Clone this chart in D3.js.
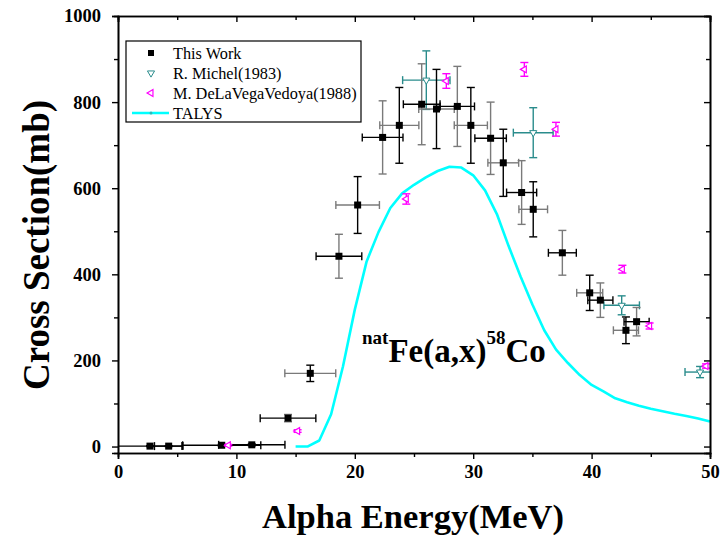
<!DOCTYPE html>
<html>
<head>
<meta charset="utf-8">
<script src="https://cdn.jsdelivr.net/npm/d3@7/dist/d3.min.js"></script>
<style>
  html, body { margin: 0; padding: 0; background: #fff; }
  svg { display: block; }
  text { font-family: "Liberation Serif", "Times New Roman", serif; }
</style>
</head>
<body>
<svg id="chart" width="724" height="540"></svg>
<script>
// natFe(a,x)58Co excitation function

// This Work
const workEnergy = [2.7, 4.28, 8.76, 11.3, 14.36, 16.24, 18.66, 20.24, 22.35, 23.76, 25.65, 26.9,
                    28.66, 29.8, 31.47, 32.54, 34.09, 35.07, 37.53, 39.84, 40.74, 42.9, 43.8];
const workXS = [1, 1, 3, 4, 66, 170, 442, 561, 718, 746, 795, 784,
                790, 746, 716, 659, 590, 551, 450, 357, 340, 270, 290];
const workEnergyErr = [2.7, 1.2, 3.3, 2.8, 2.35, 2.15, 1.93, 1.84, 1.72, 1.65, 1.55, 1.5,
                       1.45, 1.4, 1.33, 1.3, 1.27, 1.21, 1.18, 1.1, 1.06, 1.06, 1.06];
const workXSErr = [1, 1, 2, 2, 8.5, 19, 51, 66, 85, 88, 94, 92,
                   93, 88, 84, 78, 74, 64, 52, 41, 40, 31, 33];

// R. Michel (1983)
const michelEnergy = [26.04, 35.07, 42.54, 49.16];
const michelXS = [851, 729, 328, 173];
const michelEnergyErr = [2.0, 1.68, 1.5, 1.27];
const michelXSErr = [68, 58, 22, 13];

// M. DeLaVegaVedoya (1988)
const vedoyaEnergy = [9.32, 15.17, 24.35, 27.73, 34.32, 36.99, 42.6, 44.9, 49.66];
const vedoyaXS = [3, 36, 575, 849, 876, 737, 412, 280, 187];
const vedoyaXSErr = [2, 3, 12, 17, 16, 16, 9, 7, 5];

// TALYS calculation
const talysEnergy = [15, 16, 17, 18, 19, 20, 21, 22, 23, 24, 25, 26, 27, 28, 29, 30, 31, 32, 33,
                     34, 35, 36, 37, 38, 39, 40, 41, 42, 43, 44, 45, 46, 47, 48, 49, 50];
const talysXS = [0, 0, 14, 75, 186, 318, 430, 498, 554, 588, 608, 625, 640, 650, 648, 630, 595, 540, 465,
                 395, 330, 270, 225, 194, 166, 143, 128, 112, 103, 95, 88, 82, 76, 71, 65, 58];

// Axis ticks
const xMajorTicks = [0, 10, 20, 30, 40, 50];
const xMinorTicks = [5, 15, 25, 35, 45];
const yMajorTicks = [0, 200, 400, 600, 800, 1000];
const yMinorTicks = [100, 300, 500, 700, 900];

const legendLabels = ["This Work", "R. Michel(1983)", "M. DeLaVegaVedoya(1988)", "TALYS"];

const svg = d3.select("#chart");
const L = 118, R = 710, T = 16, B = 453;

const x = d3.scaleLinear().domain([0, 50]).range([L, R]);
const y = d3.scaleLinear().domain([-15, 1000]).range([B, T]);

const TEAL = "#2a8c8c", MAGENTA = "#ff00ff", CYAN = "#00ffff", GRAY = "#7a7a7a";

// clip region for the data
svg.append("defs").append("clipPath").attr("id", "plotClip")
  .append("rect").attr("x", L).attr("y", T - 10).attr("width", R - L + 1).attr("height", B - T + 10);

const plot = svg.append("g").attr("clip-path", "url(#plotClip)");

// TALYS curve
const line = d3.line().x(d => x(d[0])).y(d => y(d[1]));
plot.append("path")
  .datum(talysEnergy.map((e, i) => [e, talysXS[i]]))
  .attr("d", line)
  .attr("fill", "none")
  .attr("stroke", CYAN)
  .attr("stroke-width", 2.6)
  .attr("stroke-linejoin", "round");

// error bar helpers
function hBar(g, e, v, de, color, cap) {
  g.append("line").attr("x1", x(e - de)).attr("x2", x(e + de)).attr("y1", y(v)).attr("y2", y(v))
    .attr("stroke", color).attr("stroke-width", 1.4);
  [e - de, e + de].forEach(ee => {
    g.append("line").attr("x1", x(ee)).attr("x2", x(ee)).attr("y1", y(v) - cap).attr("y2", y(v) + cap)
      .attr("stroke", color).attr("stroke-width", 1.4);
  });
}
function vBar(g, e, v, dv, color, cap) {
  g.append("line").attr("x1", x(e)).attr("x2", x(e)).attr("y1", y(v - dv)).attr("y2", y(v + dv))
    .attr("stroke", color).attr("stroke-width", 1.4);
  [v - dv, v + dv].forEach(vv => {
    g.append("line").attr("x1", x(e) - cap).attr("x2", x(e) + cap).attr("y1", y(vv)).attr("y2", y(vv))
      .attr("stroke", color).attr("stroke-width", 1.4);
  });
}

// R. Michel
const gM = plot.append("g");
michelEnergy.forEach((e, i) => {
  hBar(gM, e, michelXS[i], michelEnergyErr[i], TEAL, 4);
  vBar(gM, e, michelXS[i], michelXSErr[i], TEAL, 4);
});
const triDown = d3.symbol().type(d3.symbolTriangle).size(22);
gM.selectAll("path.m").data(michelEnergy).join("path")
  .attr("class", "m")
  .attr("d", triDown)
  .attr("transform", (e, i) => `translate(${x(e)},${y(michelXS[i])}) rotate(180)`)
  .attr("fill", "#fff").attr("stroke", TEAL).attr("stroke-width", 1);

// This Work
const gW = plot.append("g");
workEnergy.forEach((e, i) => {
  const low = i < 4;
  const vCol = low ? "#000" : (i % 2 === 0 ? GRAY : "#000");
  const hCol = low ? "#000" : (i % 2 === 0 ? "#000" : GRAY);
  hBar(gW, e, workXS[i], workEnergyErr[i], hCol, 4);
  vBar(gW, e, workXS[i], workXSErr[i], vCol, 4);
});
gW.selectAll("rect.w").data(workEnergy).join("rect")
  .attr("class", "w")
  .attr("x", e => x(e) - 3.5)
  .attr("y", (e, i) => y(workXS[i]) - 3.5)
  .attr("width", 7).attr("height", 7)
  .attr("fill", "#000");

// DeLaVegaVedoya
const gV = plot.append("g");
vedoyaEnergy.forEach((e, i) => {
  vBar(gV, e, vedoyaXS[i], vedoyaXSErr[i], MAGENTA, 4);
});
const triLeft = d3.symbol().type(d3.symbolTriangle).size(20);
gV.selectAll("path.v").data(vedoyaEnergy).join("path")
  .attr("class", "v")
  .attr("d", triLeft)
  .attr("transform", (e, i) => `translate(${x(e)},${y(vedoyaXS[i])}) rotate(-90)`)
  .attr("fill", "#fff").attr("stroke", MAGENTA).attr("stroke-width", 1.2);

// Axes
const fmt = d3.format("d");
svg.append("g").attr("transform", `translate(0,${B})`)
  .call(d3.axisBottom(x).tickValues(xMajorTicks).tickFormat(fmt).tickSize(6).tickPadding(6));
svg.append("g").attr("transform", `translate(0,${B})`)
  .call(d3.axisBottom(x).tickValues(xMinorTicks).tickFormat("").tickSize(4));
svg.append("g").attr("transform", `translate(${L},0)`)
  .call(d3.axisLeft(y).tickValues(yMajorTicks).tickFormat(fmt).tickSize(6).tickPadding(11));
svg.append("g").attr("transform", `translate(${L},0)`)
  .call(d3.axisLeft(y).tickValues(yMinorTicks).tickFormat("").tickSize(4));
// mirrored axes with inward ticks
svg.append("g").attr("transform", `translate(0,${T})`)
  .call(d3.axisBottom(x).tickValues(xMajorTicks).tickFormat("").tickSize(6));
svg.append("g").attr("transform", `translate(0,${T})`)
  .call(d3.axisBottom(x).tickValues(xMinorTicks).tickFormat("").tickSize(4));
svg.append("g").attr("transform", `translate(${R},0)`)
  .call(d3.axisLeft(y).tickValues(yMajorTicks).tickFormat("").tickSize(6));
svg.append("g").attr("transform", `translate(${R},0)`)
  .call(d3.axisLeft(y).tickValues(yMinorTicks).tickFormat("").tickSize(4));

svg.selectAll(".domain").attr("stroke", "#000").attr("stroke-width", 1.6);
svg.selectAll(".tick line").attr("stroke", "#000").attr("stroke-width", 1.4);
svg.selectAll(".tick text")
  .attr("fill", "#000")
  .style("font-family", '"Liberation Serif", "Times New Roman", serif')
  .style("font-weight", "bold")
  .style("font-size", "18.5px");

// Axis titles
svg.append("text")
  .attr("x", 413).attr("y", 528)
  .attr("text-anchor", "middle")
  .style("font-weight", "bold").style("font-size", "34.5px")
  .text("Alpha Energy(MeV)");
svg.append("text")
  .attr("transform", "translate(49,245) rotate(-90)")
  .attr("text-anchor", "middle")
  .style("font-weight", "bold").style("font-size", "37px")
  .text("Cross Section(mb)");

// Reaction label
const reac = svg.append("text").attr("x", 362).attr("y", 362).style("font-weight", "bold");
reac.append("tspan").attr("dy", -18).style("font-size", "19px").text("nat");
reac.append("tspan").attr("dy", 18).style("font-size", "33px").text("Fe(a,x)");
reac.append("tspan").attr("dy", -18).style("font-size", "19px").text("58");
reac.append("tspan").attr("dy", 18).style("font-size", "33px").text("Co");

// Legend
const lg = svg.append("g");
lg.append("rect").attr("x", 126).attr("y", 41).attr("width", 235).attr("height", 81)
  .attr("fill", "#fff").attr("stroke", "#000").attr("stroke-width", 1.2);
const rowY = [53, 73, 93, 113];
const symX = 151;
lg.append("rect").attr("x", symX - 3).attr("y", rowY[0] - 3).attr("width", 6).attr("height", 6).attr("fill", "#000");
lg.append("path").attr("d", triDown).attr("transform", `translate(${symX},${rowY[1]}) rotate(180)`)
  .attr("fill", "#fff").attr("stroke", TEAL).attr("stroke-width", 1);
lg.append("path").attr("d", triLeft).attr("transform", `translate(${symX},${rowY[2]}) rotate(-90)`)
  .attr("fill", "#fff").attr("stroke", MAGENTA).attr("stroke-width", 1.2);
lg.append("line").attr("x1", 132).attr("x2", 169).attr("y1", rowY[3]).attr("y2", rowY[3])
  .attr("stroke", CYAN).attr("stroke-width", 2.6);
lg.append("circle").attr("cx", symX).attr("cy", rowY[3]).attr("r", 1.5).attr("fill", "#2cb8b8");
lg.selectAll("text.lbl").data(legendLabels).join("text")
  .attr("class", "lbl")
  .attr("x", 173).attr("y", (d, i) => rowY[i] + 5.5)
  .style("font-size", "16.3px")
  .attr("fill", "#000")
  .text(d => d);
</script>
</body>
</html>
